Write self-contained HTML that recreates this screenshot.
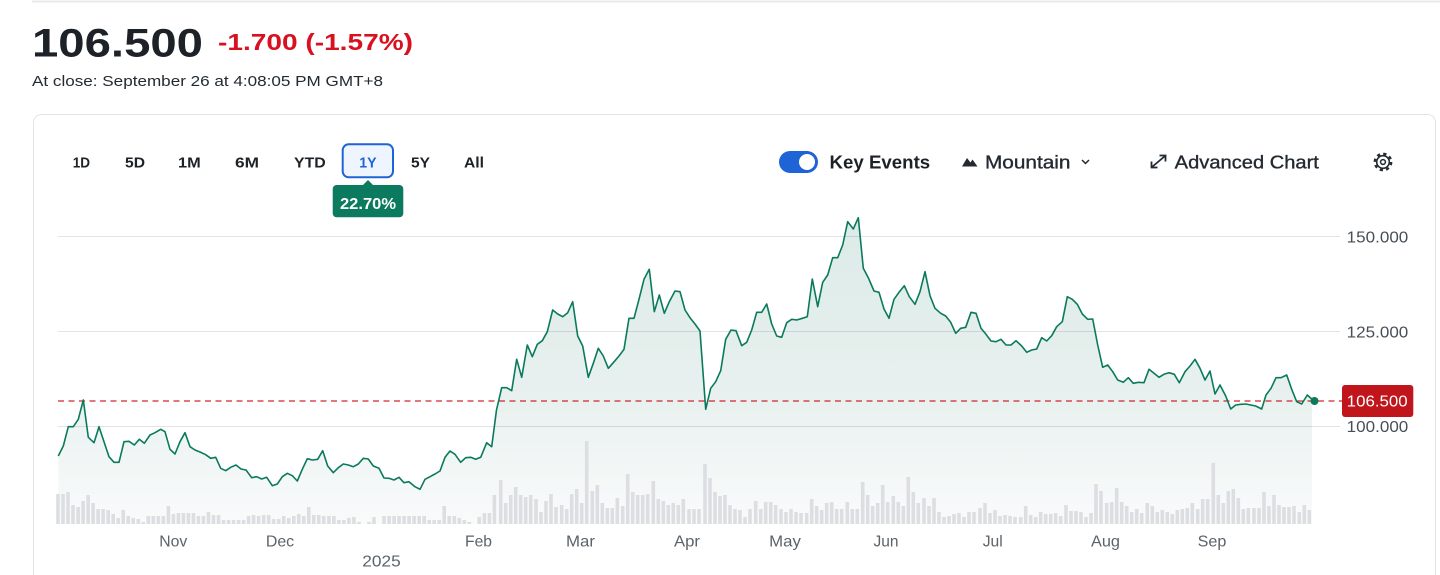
<!DOCTYPE html>
<html>
<head>
<meta charset="utf-8">
<style>
html,body{margin:0;padding:0;background:#fff;width:1440px;height:575px;overflow:hidden;}
svg{display:block;font-family:"Liberation Sans",sans-serif;}
</style>
</head>
<body>
<svg width="1440" height="575" viewBox="0 0 1440 575" xmlns="http://www.w3.org/2000/svg">
<defs>
<linearGradient id="fillg" gradientUnits="userSpaceOnUse" x1="0" y1="215" x2="0" y2="524">
<stop offset="0" stop-color="#dcebe7"/>
<stop offset="0.55" stop-color="#e7f0ee"/>
<stop offset="1" stop-color="#f9fbfb"/>
</linearGradient>
</defs>

<!-- top rule -->
<rect x="32" y="0.5" width="1408" height="2" fill="#e6e9ec"/>

<!-- header -->
<text x="32" y="56.7" font-size="40" font-weight="bold" fill="#1d2228" textLength="171" lengthAdjust="spacingAndGlyphs">106.500</text>
<text x="218" y="50" font-size="23.5" font-weight="bold" fill="#d8101f" textLength="195" lengthAdjust="spacingAndGlyphs">-1.700 (-1.57%)</text>
<text x="32" y="86" font-size="15" fill="#232a31" textLength="351" lengthAdjust="spacingAndGlyphs">At close: September 26 at 4:08:05 PM GMT+8</text>

<!-- card (open at bottom, clipped by frame) -->
<path d="M33.5 575V122.5a8 8 0 0 1 8-8H1427.5a8 8 0 0 1 8 8V575" fill="#fff" stroke="#e0e4e9" stroke-width="1"/>

<!-- range buttons -->
<g font-size="15" font-weight="bold" fill="#1d2228">
<text x="72.7" y="167.3" textLength="17.3" lengthAdjust="spacingAndGlyphs">1D</text>
<text x="125" y="167.3" textLength="20" lengthAdjust="spacingAndGlyphs">5D</text>
<text x="178" y="167.3" textLength="22.7" lengthAdjust="spacingAndGlyphs">1M</text>
<text x="235" y="167.3" textLength="24" lengthAdjust="spacingAndGlyphs">6M</text>
<text x="294" y="167.3" textLength="31.7" lengthAdjust="spacingAndGlyphs">YTD</text>
<text x="411" y="167.3" textLength="19" lengthAdjust="spacingAndGlyphs">5Y</text>
<text x="464" y="167.3" textLength="20" lengthAdjust="spacingAndGlyphs">All</text>
</g>
<rect x="342.7" y="144.3" width="50.3" height="33" rx="6" ry="6" fill="#eef5fe" stroke="#1f64d6" stroke-width="2"/>
<text x="359.3" y="167.3" font-size="15" font-weight="bold" fill="#1f64d6" textLength="17.3" lengthAdjust="spacingAndGlyphs">1Y</text>

<!-- tooltip -->
<polygon points="362,186 368,180 374,186" fill="#0b7a5e"/>
<rect x="332.7" y="185" width="70.6" height="32.3" rx="4" ry="4" fill="#0b7a5e"/>
<text x="340" y="209" font-size="16" font-weight="bold" fill="#fff" textLength="56" lengthAdjust="spacingAndGlyphs">22.70%</text>

<!-- right toolbar -->
<rect x="779" y="151" width="39" height="22" rx="11" ry="11" fill="#1f64d6"/>
<circle cx="807" cy="162" r="8" fill="#fff"/>
<text x="829.5" y="168.5" font-size="18" font-weight="bold" fill="#1d2228" textLength="100.7" lengthAdjust="spacingAndGlyphs">Key Events</text>
<polygon points="962,166.5 967,158 970.5,162.5 972.5,159.5 977.5,166.5" fill="#232a31"/>
<text x="985" y="168.5" font-size="18" fill="#232a31" stroke="#232a31" stroke-width="0.35" textLength="85.5" lengthAdjust="spacingAndGlyphs">Mountain</text>
<polyline points="1082,160 1085.5,163.5 1089,160" fill="none" stroke="#232a31" stroke-width="1.5"/>
<g stroke="#232a31" stroke-width="1.8" fill="none">
<line x1="1152" y1="167" x2="1165" y2="156"/>
<polyline points="1159.5,155.5 1165.5,155.5 1165.5,161.5"/>
<polyline points="1151.5,161.5 1151.5,167.5 1157.5,167.5"/>
</g>
<text x="1174.7" y="168.5" font-size="18" fill="#232a31" stroke="#232a31" stroke-width="0.35" textLength="144.2" lengthAdjust="spacingAndGlyphs">Advanced Chart</text>
<g fill="none" stroke="#232a31">
<circle cx="1383" cy="162" r="6.3" stroke-width="1.6"/>
<circle cx="1383" cy="162" r="8.2" stroke-width="2.4" stroke-dasharray="3.2 3.24"/>
<circle cx="1383" cy="162" r="2.4" stroke-width="1.5"/>
</g>

<!-- area fill -->
<polygon fill="url(#fillg)" points="58.3,524 58.3,456 63.3,446 68.3,426.7 73.3,426.7 78.3,419.3 83.3,400 88.3,437.3 94,442.7 99,426.7 104,441.7 109,456.7 114,462.3 119,462.3 124,441.7 129,441.3 134.3,445 139.3,439.3 144.3,443.3 150,435 155,432.7 160.7,429.3 165,431.7 170,449.3 175,454 180,441.7 185,432.7 190,446.7 195,450 200,452 205.7,454.7 210.7,458.3 215.7,457.3 220.7,468.3 225.7,470.7 230.7,467.3 236,465 241,469 246,470 251.7,477.7 256.7,476.7 261.7,479 266.7,477.3 272.3,485.7 277.3,484 282.3,476.7 287.3,473.3 292.3,475.7 297.3,481 302.3,469.3 307.3,458.7 312.3,460 317.7,459.3 322.7,450.7 327.7,466 333.3,472.7 338.3,467.7 343.3,464 348.3,465 353.3,466.7 358.3,464 363.3,458.3 368.3,459 373.3,466 379,468.3 384,478 389,478.3 394,480 399,477.3 404,482.7 409,481.7 415,486.7 420,489.3 425,479.3 430,476.7 435,474 440,471 445,457.3 450,451 455,454.3 460.7,462.3 465.7,457.7 470.7,457.3 475.7,459.3 480.7,457.3 486.7,442.7 491.7,446.7 496.5,410 501.7,387.7 506.7,387.7 511.7,390.7 516.7,359.3 521.7,377.3 527.3,345 532.3,356.7 537.3,344.3 542.3,340.7 547.3,331.7 552.7,310 557.7,314 562.7,316.7 567.7,312.7 572.7,301.7 577.7,336 582.7,346 588.3,377.3 593.3,363.3 598.3,348.3 603.3,356 608.3,368.3 613.3,362.7 619,356 624,349.3 629,318.3 634,318.3 639,299.3 644,279.3 649.3,269.3 654.3,311.7 659.3,295 664.3,313.3 669.3,301.7 675,291 680,291.7 685,310 690,317.7 695,324 700,331 705.7,409.3 710.7,388.3 715.7,381.7 720.7,370.7 725.7,339.3 731,330 736,330.7 741.7,345.7 746.7,342.3 751.7,330 756.7,312.3 761.7,312.3 766.7,304 771.7,324 776.7,336 781.7,337.3 786.7,322.7 791.7,319.3 796.7,320 802.3,318.3 807.3,316.7 812.3,279 817.7,306.7 822.7,282.3 827.7,275 832.7,257.7 837.7,257.7 842.7,245 847.7,221.7 853.3,229 858.3,217.7 863.3,268.3 868.3,277.7 874,291 879,292.3 884,309 889,318.3 894,299.3 899,292.3 904.3,285.7 909.3,296.7 915,304.3 920,291.7 925,271.7 930,295.7 935,308.3 940.7,313.3 945.7,316 950.7,322.3 955.7,333.3 960.7,328.3 965.7,327.3 971,312.3 976,313.3 981,328.3 986,334.3 991,341 996,341.7 1001,339.3 1006,345 1011,345 1016,340.7 1021.7,346 1026.7,352.3 1031.7,350 1036.7,349 1041.7,337.7 1046.7,341 1051.7,335.7 1056.7,326.7 1062.3,321.7 1067.3,296.7 1072.3,299.3 1077.3,304.3 1082.3,314 1087.7,319.3 1092.7,319 1097.7,345 1102.7,367.3 1107.7,365 1112.7,371.7 1117.7,380 1123.3,382.3 1128.3,377.7 1133.3,383.3 1138.3,382.3 1144,382.7 1149,369.3 1154,373.3 1159,377.3 1164,374.3 1169,372.7 1174.3,374.3 1179.3,382.7 1185,371.7 1190,366 1195,359.3 1200,368.3 1205,380 1210,371 1215,394 1220,385 1225.7,396 1230.7,409 1235.7,405 1240.7,404.3 1245.7,404 1250.7,405 1255.7,406 1261.7,409 1266,395 1271,388.3 1276,377.7 1281,377.7 1286.7,375 1291.7,389.3 1296.7,401.7 1301.7,404 1307.3,395 1312,400 1312,524"/>

<!-- volume bars -->
<path fill="none" stroke="#dcdee1" stroke-width="3.6" d="M58 524v-30M63 524v-30M68 524v-32M73 524v-19M78.1 524v-17M83.1 524v-23M88.1 524v-29M93.1 524v-21M98.1 524v-15M103.1 524v-15M108.2 524v-14M113.2 524v-10M118.2 524v-6M123.2 524v-14M128.2 524v-8M133.2 524v-6M138.3 524v-5M143.3 524v-2M148.3 524v-8M153.3 524v-8M158.3 524v-8M163.3 524v-8M168.4 524v-18M173.4 524v-10M178.4 524v-11M183.4 524v-11M188.4 524v-11M193.4 524v-11M198.4 524v-8M203.5 524v-8M208.5 524v-12M213.5 524v-9M218.5 524v-9M223.5 524v-4M228.5 524v-4M233.6 524v-4M238.6 524v-4M243.6 524v-4M248.6 524v-8M253.6 524v-9M258.6 524v-8M263.7 524v-9M268.7 524v-9M273.7 524v-5M278.7 524v-5M283.7 524v-8M288.7 524v-6M293.8 524v-8M298.8 524v-10M303.8 524v-8M308.8 524v-17M313.8 524v-9M318.8 524v-9M323.8 524v-8M328.9 524v-8M333.9 524v-8M338.9 524v-4M343.9 524v-4M348.9 524v-6M353.9 524v-7M359 524v-2M369 524v-2M374 524v-7M384 524v-8M389.1 524v-8M394.1 524v-8M399.1 524v-8M404.1 524v-8M409.1 524v-8M414.1 524v-8M419.2 524v-8M424.2 524v-8M429.2 524v-4M434.2 524v-4M439.2 524v-4M444.2 524v-18M449.2 524v-8M454.3 524v-8M459.3 524v-6M464.3 524v-4M469.3 524v-2M479.3 524v-7M484.4 524v-11M489.4 524v-11M494.4 524v-29M500.7 524v-44M505.7 524v-21M510.7 524v-29M515.7 524v-37M520.7 524v-29M525.7 524v-27M530.7 524v-29M536 524v-25M541 524v-12M546 524v-23M551 524v-30M556 524v-17M561.7 524v-19M566.7 524v-15M571.7 524v-30M576.7 524v-35M581.7 524v-21M586.7 524v-83M592.3 524v-33M597.3 524v-39M602.3 524v-21M607.3 524v-16M612.3 524v-16M617.3 524v-26M622.7 524v-18M627.7 524v-50M632.7 524v-32M637.7 524v-29M642.7 524v-29M647.7 524v-30M653.3 524v-43M658.3 524v-25M663.3 524v-23M668.3 524v-19M673.3 524v-21M678.3 524v-19M683.3 524v-25M689 524v-15M694 524v-15M699 524v-15M705 524v-60M710 524v-46M715 524v-32M720 524v-28M725 524v-29M730 524v-19M735 524v-15M740 524v-14M745 524v-7M750 524v-15M755.7 524v-23M760.7 524v-15M765.7 524v-22M770.7 524v-22M775.7 524v-19M781 524v-15M786 524v-12M791 524v-15M796 524v-12M801 524v-11M806.7 524v-11M811.7 524v-25M816.7 524v-18M821.7 524v-14M826.7 524v-21M831.7 524v-22M836.7 524v-15M841.7 524v-15M847.3 524v-22M852.3 524v-15M857.3 524v-15M862.7 524v-42M867.7 524v-29M872.7 524v-18M877.7 524v-21M882.7 524v-39M887.7 524v-22M893.3 524v-28M898.3 524v-22M903.3 524v-18M908.3 524v-47M913.3 524v-32M918.3 524v-21M924 524v-26M929 524v-18M934 524v-26M939 524v-12M944 524v-7M949 524v-8M954 524v-10M959 524v-11M964 524v-7M969 524v-12M974 524v-12M980 524v-16M985 524v-21M990 524v-11M995 524v-14M1000 524v-8M1005 524v-9M1010 524v-8M1015 524v-7M1020.7 524v-7M1025.7 524v-18M1030.7 524v-9M1035.7 524v-7M1040.7 524v-12M1045.7 524v-10M1050.7 524v-10M1055.7 524v-11M1060.7 524v-8M1066 524v-19M1071 524v-13M1076 524v-13M1081 524v-12M1086 524v-7M1091 524v-11M1096 524v-40M1101 524v-33M1106.7 524v-21M1111.7 524v-22M1116.7 524v-36M1121.7 524v-22M1126.7 524v-18M1131.7 524v-12M1136.7 524v-15M1141.7 524v-11M1147.3 524v-21M1152.3 524v-18M1157.3 524v-12M1162.3 524v-14M1167.3 524v-12M1172.3 524v-10M1177.3 524v-14M1182.3 524v-15M1187.3 524v-16M1192.3 524v-21M1197.7 524v-15M1202.7 524v-25M1207.7 524v-25M1213.3 524v-61M1218.3 524v-29M1223.3 524v-21M1228.3 524v-33M1233.3 524v-35M1238.3 524v-26M1243.3 524v-15M1248.3 524v-16M1254 524v-16M1259 524v-16M1264 524v-32M1269 524v-18M1274 524v-29M1279 524v-19M1284 524v-17M1289 524v-17M1294 524v-18M1299.3 524v-12M1304.3 524v-19M1309.3 524v-14"/>

<!-- gridlines -->
<g stroke="#101820" stroke-opacity="0.12" stroke-width="1">
<line x1="58" y1="236.5" x2="1340" y2="236.5"/>
<line x1="58" y1="331.5" x2="1340" y2="331.5"/>
<line x1="58" y1="426.5" x2="1340" y2="426.5"/>
</g>

<!-- dashed previous close -->
<line x1="58" y1="401" x2="1342" y2="401" stroke="#d0262e" stroke-width="1.3" stroke-dasharray="6 4.5"/>

<!-- price line -->
<polyline fill="none" stroke="#0a7a5c" stroke-width="1.6" stroke-linejoin="round" points="58.3,456 63.3,446 68.3,426.7 73.3,426.7 78.3,419.3 83.3,400 88.3,437.3 94,442.7 99,426.7 104,441.7 109,456.7 114,462.3 119,462.3 124,441.7 129,441.3 134.3,445 139.3,439.3 144.3,443.3 150,435 155,432.7 160.7,429.3 165,431.7 170,449.3 175,454 180,441.7 185,432.7 190,446.7 195,450 200,452 205.7,454.7 210.7,458.3 215.7,457.3 220.7,468.3 225.7,470.7 230.7,467.3 236,465 241,469 246,470 251.7,477.7 256.7,476.7 261.7,479 266.7,477.3 272.3,485.7 277.3,484 282.3,476.7 287.3,473.3 292.3,475.7 297.3,481 302.3,469.3 307.3,458.7 312.3,460 317.7,459.3 322.7,450.7 327.7,466 333.3,472.7 338.3,467.7 343.3,464 348.3,465 353.3,466.7 358.3,464 363.3,458.3 368.3,459 373.3,466 379,468.3 384,478 389,478.3 394,480 399,477.3 404,482.7 409,481.7 415,486.7 420,489.3 425,479.3 430,476.7 435,474 440,471 445,457.3 450,451 455,454.3 460.7,462.3 465.7,457.7 470.7,457.3 475.7,459.3 480.7,457.3 486.7,442.7 491.7,446.7 496.5,410 501.7,387.7 506.7,387.7 511.7,390.7 516.7,359.3 521.7,377.3 527.3,345 532.3,356.7 537.3,344.3 542.3,340.7 547.3,331.7 552.7,310 557.7,314 562.7,316.7 567.7,312.7 572.7,301.7 577.7,336 582.7,346 588.3,377.3 593.3,363.3 598.3,348.3 603.3,356 608.3,368.3 613.3,362.7 619,356 624,349.3 629,318.3 634,318.3 639,299.3 644,279.3 649.3,269.3 654.3,311.7 659.3,295 664.3,313.3 669.3,301.7 675,291 680,291.7 685,310 690,317.7 695,324 700,331 705.7,409.3 710.7,388.3 715.7,381.7 720.7,370.7 725.7,339.3 731,330 736,330.7 741.7,345.7 746.7,342.3 751.7,330 756.7,312.3 761.7,312.3 766.7,304 771.7,324 776.7,336 781.7,337.3 786.7,322.7 791.7,319.3 796.7,320 802.3,318.3 807.3,316.7 812.3,279 817.7,306.7 822.7,282.3 827.7,275 832.7,257.7 837.7,257.7 842.7,245 847.7,221.7 853.3,229 858.3,217.7 863.3,268.3 868.3,277.7 874,291 879,292.3 884,309 889,318.3 894,299.3 899,292.3 904.3,285.7 909.3,296.7 915,304.3 920,291.7 925,271.7 930,295.7 935,308.3 940.7,313.3 945.7,316 950.7,322.3 955.7,333.3 960.7,328.3 965.7,327.3 971,312.3 976,313.3 981,328.3 986,334.3 991,341 996,341.7 1001,339.3 1006,345 1011,345 1016,340.7 1021.7,346 1026.7,352.3 1031.7,350 1036.7,349 1041.7,337.7 1046.7,341 1051.7,335.7 1056.7,326.7 1062.3,321.7 1067.3,296.7 1072.3,299.3 1077.3,304.3 1082.3,314 1087.7,319.3 1092.7,319 1097.7,345 1102.7,367.3 1107.7,365 1112.7,371.7 1117.7,380 1123.3,382.3 1128.3,377.7 1133.3,383.3 1138.3,382.3 1144,382.7 1149,369.3 1154,373.3 1159,377.3 1164,374.3 1169,372.7 1174.3,374.3 1179.3,382.7 1185,371.7 1190,366 1195,359.3 1200,368.3 1205,380 1210,371 1215,394 1220,385 1225.7,396 1230.7,409 1235.7,405 1240.7,404.3 1245.7,404 1250.7,405 1255.7,406 1261.7,409 1266,395 1271,388.3 1276,377.7 1281,377.7 1286.7,375 1291.7,389.3 1296.7,401.7 1301.7,404 1307.3,395 1314,401"/>
<circle cx="1314.5" cy="401" r="4" fill="#0a7a5c"/>

<!-- y axis labels -->
<g font-size="16" fill="#464e56">
<text x="1346.7" y="242.3" textLength="61.6" lengthAdjust="spacingAndGlyphs">150.000</text>
<text x="1346.7" y="337.3" textLength="61.6" lengthAdjust="spacingAndGlyphs">125.000</text>
<text x="1346.7" y="431.8" textLength="61.6" lengthAdjust="spacingAndGlyphs">100.000</text>
</g>

<!-- price tag -->
<rect x="1342" y="385" width="71.3" height="32" rx="3" ry="3" fill="#c0151b"/>
<text x="1346.7" y="406.7" font-size="16" fill="#fff" textLength="61" lengthAdjust="spacingAndGlyphs">106.500</text>

<!-- x axis labels -->
<g font-size="16" fill="#5b636a" text-anchor="middle">
<text x="173.3" y="546.7" textLength="28" lengthAdjust="spacingAndGlyphs">Nov</text>
<text x="280" y="546.7" textLength="28.3" lengthAdjust="spacingAndGlyphs">Dec</text>
<text x="381.5" y="566.7" textLength="38.4" lengthAdjust="spacingAndGlyphs">2025</text>
<text x="478.5" y="546.7" textLength="27" lengthAdjust="spacingAndGlyphs">Feb</text>
<text x="580.5" y="546.7" textLength="29" lengthAdjust="spacingAndGlyphs">Mar</text>
<text x="687" y="546.7" textLength="26" lengthAdjust="spacingAndGlyphs">Apr</text>
<text x="785" y="546.7" textLength="31.7" lengthAdjust="spacingAndGlyphs">May</text>
<text x="886" y="546.7" textLength="25" lengthAdjust="spacingAndGlyphs">Jun</text>
<text x="992.7" y="546.7" textLength="20" lengthAdjust="spacingAndGlyphs">Jul</text>
<text x="1105.5" y="546.7" textLength="29" lengthAdjust="spacingAndGlyphs">Aug</text>
<text x="1212" y="546.7" textLength="28.7" lengthAdjust="spacingAndGlyphs">Sep</text>
</g>
</svg>
</body>
</html>
